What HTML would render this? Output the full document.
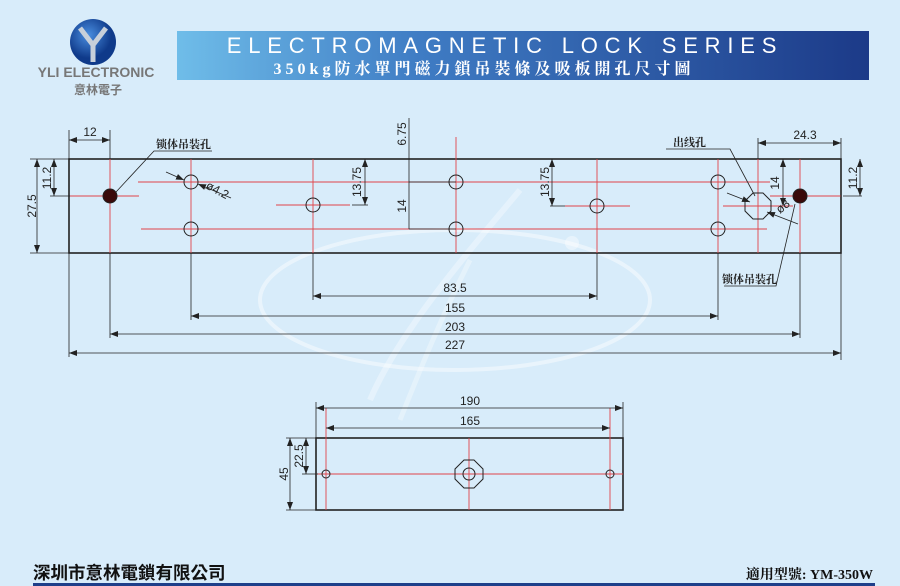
<!DOCTYPE html>
<html><head><meta charset="utf-8"><style>
body{margin:0;background:#d8ecfa;}
svg{display:block;font-family:"Liberation Sans",sans-serif;}
.k{stroke:#222;stroke-width:0.8;fill:none}
.r{stroke:#e0454a;stroke-width:0.9;fill:none}
.t{font-size:12px;fill:#222}
.c{fill:none;stroke:#222;stroke-width:1}
</style></head><body>
<svg width="900" height="586" viewBox="0 0 900 586" xmlns="http://www.w3.org/2000/svg">
<defs>
<linearGradient id="g" x1="0" x2="1"><stop offset="0" stop-color="#6fbde9"/><stop offset="0.35" stop-color="#3f7cc4"/><stop offset="1" stop-color="#1c3a88"/></linearGradient>
<radialGradient id="lg" cx="0.4" cy="0.35"><stop offset="0" stop-color="#4a8ee0"/><stop offset="1" stop-color="#0f3a8a"/></radialGradient>
<marker id="a" markerWidth="8" markerHeight="6" refX="8" refY="3" orient="auto-start-reverse" markerUnits="userSpaceOnUse"><path d="M0,0L8,3L0,6z" fill="#222"/></marker>
</defs>
<rect width="900" height="586" fill="#d8ecfa"/>
<!-- watermark -->
<ellipse cx="455" cy="300" rx="195" ry="70" fill="none" stroke="#fff" stroke-opacity="0.45" stroke-width="4"/>
<path d="M520,190 C470,250 400,330 370,400" stroke="#fff" stroke-opacity="0.35" stroke-width="6" fill="none"/>
<path d="M470,260 C440,320 420,370 400,420" stroke="#fff" stroke-opacity="0.3" stroke-width="5" fill="none"/>
<circle cx="572" cy="243" r="7" fill="#fff" fill-opacity="0.4"/>
<!-- logo -->
<circle cx="93" cy="42" r="23" fill="url(#lg)"/>
<path d="M80,28 L93,45 L106,28 M93,45 L93,62" stroke="#c8d0da" stroke-width="5" fill="none"/>
<text x="96" y="77" text-anchor="middle" font-size="14" font-weight="bold" fill="#777">YLI ELECTRONIC</text>
<text x="98" y="94" text-anchor="middle" font-size="12" font-weight="bold" fill="#777" font-family="'Noto Sans CJK TC',sans-serif">意林電子</text>
<!-- banner -->
<rect x="177" y="31" width="692" height="49" fill="url(#g)"/>
<text x="505" y="53" text-anchor="middle" font-size="22" fill="#fff" letter-spacing="6.8">ELECTROMAGNETIC LOCK SERIES</text>
<text x="484" y="74" text-anchor="middle" font-size="16" font-weight="bold" fill="#fff" letter-spacing="4" font-family="'Liberation Serif','Noto Serif CJK SC',serif">350kg防水單門磁力鎖吊裝條及吸板開孔尺寸圖</text>
<!-- main plate -->
<rect x="69" y="159" width="772" height="94" fill="none" stroke="#222" stroke-width="1.6"/>
<g class="r">
<line x1="138" y1="182" x2="770" y2="182"/><line x1="141" y1="229" x2="767" y2="229"/>
<line x1="276" y1="205" x2="350" y2="205"/><line x1="565" y1="206" x2="630" y2="206"/>
<line x1="70" y1="196" x2="139" y2="196"/><line x1="770" y1="196" x2="841" y2="196"/>
<line x1="723" y1="206" x2="793" y2="206"/>
<line x1="110" y1="159" x2="110" y2="253"/><line x1="191" y1="159" x2="191" y2="253"/>
<line x1="313" y1="159" x2="313" y2="253"/><line x1="456" y1="137" x2="456" y2="253"/>
<line x1="597" y1="159" x2="597" y2="253"/><line x1="718" y1="159" x2="718" y2="253"/>
<line x1="758" y1="159" x2="758" y2="253"/><line x1="800" y1="159" x2="800" y2="253"/>
</g>
<circle cx="110" cy="196" r="7" fill="#3a0a0a" stroke="#222"/>
<circle cx="800" cy="196" r="7" fill="#3a0a0a" stroke="#222"/>
<g class="c">
<circle cx="191" cy="182" r="7"/><circle cx="191" cy="229" r="7"/><circle cx="313" cy="205" r="7"/>
<circle cx="456" cy="182" r="7"/><circle cx="456" cy="229" r="7"/><circle cx="597" cy="206" r="7"/>
<circle cx="718" cy="182" r="7"/><circle cx="718" cy="229" r="7"/>
<polygon points="753,193 763,193 771,201 771,211 763,219 753,219 745,211 745,201"/>
</g>
<!-- dims -->
<g class="k">
<line x1="69" y1="130" x2="69" y2="159"/><line x1="110" y1="130" x2="110" y2="159"/>
<line x1="69" y1="140" x2="110" y2="140" marker-start="url(#a)" marker-end="url(#a)"/>
<line x1="30" y1="159" x2="69" y2="159"/><line x1="30" y1="253" x2="69" y2="253"/>
<line x1="37" y1="159" x2="37" y2="253" marker-start="url(#a)" marker-end="url(#a)"/>
<line x1="50" y1="196" x2="70" y2="196"/>
<line x1="54" y1="159" x2="54" y2="196" marker-start="url(#a)" marker-end="url(#a)"/>
<line x1="409" y1="118" x2="409" y2="229"/>
<line x1="409" y1="182" x2="456" y2="182"/><line x1="409" y1="229" x2="456" y2="229"/>
<line x1="352" y1="205" x2="368" y2="205"/>
<line x1="365" y1="159" x2="365" y2="205" marker-start="url(#a)" marker-end="url(#a)"/>
<line x1="550" y1="206" x2="565" y2="206"/>
<line x1="552" y1="159" x2="552" y2="206" marker-start="url(#a)" marker-end="url(#a)"/>
<line x1="758" y1="138" x2="758" y2="159"/><line x1="841" y1="138" x2="841" y2="360"/>
<line x1="758" y1="143" x2="841" y2="143" marker-start="url(#a)" marker-end="url(#a)"/>
<line x1="783" y1="159" x2="783" y2="206" marker-start="url(#a)" marker-end="url(#a)"/>
<line x1="843" y1="196" x2="862" y2="196"/>
<line x1="860" y1="159" x2="860" y2="196" marker-start="url(#a)" marker-end="url(#a)"/>
<line x1="313" y1="253" x2="313" y2="300"/><line x1="597" y1="253" x2="597" y2="300"/>
<line x1="313" y1="296" x2="597" y2="296" marker-start="url(#a)" marker-end="url(#a)"/>
<line x1="191" y1="253" x2="191" y2="320"/><line x1="718" y1="253" x2="718" y2="320"/>
<line x1="191" y1="316" x2="718" y2="316" marker-start="url(#a)" marker-end="url(#a)"/>
<line x1="110" y1="253" x2="110" y2="338"/><line x1="800" y1="253" x2="800" y2="338"/>
<line x1="110" y1="334" x2="800" y2="334" marker-start="url(#a)" marker-end="url(#a)"/>
<line x1="69" y1="253" x2="69" y2="357"/>
<line x1="69" y1="353" x2="841" y2="353" marker-start="url(#a)" marker-end="url(#a)"/>
<line x1="166" y1="172" x2="184" y2="180" marker-end="url(#a)"/><line x1="231" y1="198" x2="198" y2="184" marker-end="url(#a)"/>
<line x1="727" y1="193" x2="750" y2="202" marker-end="url(#a)"/><line x1="798" y1="224" x2="767" y2="212" marker-end="url(#a)"/>
<polyline points="212,151 154,151 116,192"/>
<polyline points="666,149 730,149 755,196"/>
<polyline points="724,286 776,286 795,204"/>
</g>
<g class="t">
<text x="90" y="136" text-anchor="middle">12</text>
<text transform="translate(36,206) rotate(-90)" text-anchor="middle">27.5</text>
<text transform="translate(51,178) rotate(-90)" text-anchor="middle">11.2</text>
<text transform="translate(406,134) rotate(-90)" text-anchor="middle">6.75</text>
<text transform="translate(406,206) rotate(-90)" text-anchor="middle">14</text>
<text transform="translate(361,182) rotate(-90)" text-anchor="middle">13.75</text>
<text transform="translate(549,182) rotate(-90)" text-anchor="middle">13.75</text>
<text transform="translate(779,183) rotate(-90)" text-anchor="middle">14</text>
<text transform="translate(857,178) rotate(-90)" text-anchor="middle">11.2</text>
<text x="805" y="139" text-anchor="middle">24.3</text>
<text transform="translate(205,188) rotate(28)">ø4.2</text>
<text transform="translate(780,214) rotate(-40)">ø8</text>
<text x="455" y="292" text-anchor="middle">83.5</text>
<text x="455" y="312" text-anchor="middle">155</text>
<text x="455" y="331" text-anchor="middle">203</text>
<text x="455" y="349" text-anchor="middle">227</text>
</g>
<g font-size="11" font-weight="bold" fill="#222" font-family="'Noto Serif CJK SC',serif">
<text x="156" y="148">锁体吊装孔</text>
<text x="673" y="146">出线孔</text>
<text x="722" y="283">锁体吊装孔</text>
</g>
<!-- bottom plate -->
<rect x="316" y="438" width="307" height="72" fill="none" stroke="#222" stroke-width="1.6"/>
<g class="r">
<line x1="316" y1="474" x2="623" y2="474"/><line x1="469" y1="438" x2="469" y2="510"/>
<line x1="326" y1="408" x2="326" y2="510"/><line x1="610" y1="408" x2="610" y2="510"/>
</g>
<g class="c">
<circle cx="326" cy="474" r="4"/><circle cx="610" cy="474" r="4"/>
<polygon points="464,460 474,460 483,469 483,479 474,488 464,488 455,479 455,469"/>
<circle cx="469" cy="474" r="6"/>
</g>
<g class="k">
<line x1="316" y1="402" x2="316" y2="438"/><line x1="623" y1="402" x2="623" y2="438"/>
<line x1="316" y1="408" x2="623" y2="408" marker-start="url(#a)" marker-end="url(#a)"/>
<line x1="326" y1="428" x2="610" y2="428" marker-start="url(#a)" marker-end="url(#a)"/>
<line x1="286" y1="438" x2="316" y2="438"/><line x1="286" y1="510" x2="316" y2="510"/>
<line x1="302" y1="474" x2="318" y2="474"/>
<line x1="290" y1="438" x2="290" y2="510" marker-start="url(#a)" marker-end="url(#a)"/>
<line x1="306" y1="438" x2="306" y2="474" marker-start="url(#a)" marker-end="url(#a)"/>
</g>
<g class="t">
<text x="470" y="405" text-anchor="middle">190</text>
<text x="470" y="425" text-anchor="middle">165</text>
<text transform="translate(288,474) rotate(-90)" text-anchor="middle">45</text>
<text transform="translate(303,456) rotate(-90)" text-anchor="middle">22.5</text>
</g>
<!-- footer -->
<text x="33" y="579" font-size="17.5" font-weight="bold" fill="#111" font-family="'Noto Sans CJK TC',sans-serif">深圳市意林電鎖有限公司</text>
<text x="873" y="579" text-anchor="end" font-size="14" font-weight="bold" fill="#111" font-family="'Liberation Serif','Noto Serif CJK SC',serif">適用型號:  YM-350W</text>
<rect x="33" y="583" width="842" height="3" fill="#1e3f8a"/>
</svg>
</body></html>
